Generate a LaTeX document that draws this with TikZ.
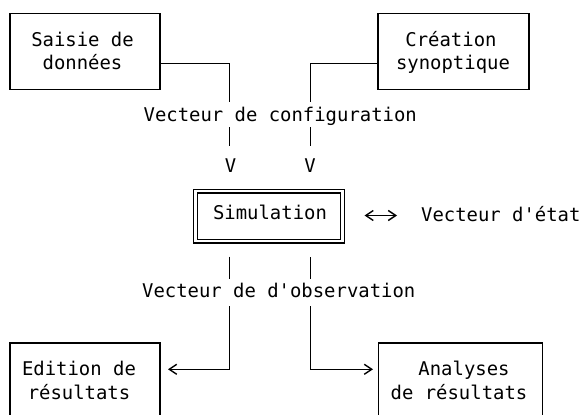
\documentclass[tikz,border=0pt]{standalone}
\usepackage{fontspec}
\newfontfamily\diagfont{DejaVu Sans Mono}
\usetikzlibrary{arrows.meta}
\begin{document}
\begin{tikzpicture}[x=1pt,y=-1pt,
  txt/.style={font=\diagfont\fontsize{18.9}{23.5}\selectfont, inner sep=0pt, anchor=base},
  lbl/.style={txt, anchor=base west},
  boxnode/.style={draw, line width=1.1pt, inner sep=0pt},
  conn/.style={line width=1pt},
  chevtip/.tip={Straight Barb[length=7.5pt,width=10pt,line width=1.4pt]},
  chev/.style={conn, -chevtip},
  dchev/.style={conn, chevtip-chevtip}
]
\useasboundingbox (0,0) rectangle (584,415);
\fill[white] (0,0) rectangle (584,415);
\clip (0,0) rectangle (584,415);

% boxes
\node[boxnode, minimum width=150pt, minimum height=76pt] (saisie) at (85,51.3) {};
\node[txt] (saisieA) at (82.5,46) {Saisie de};
\node[txt] (saisieB) at (82.5,69.3) {données};

\node[boxnode, minimum width=151pt, minimum height=76pt] (creation) at (453.5,51.3) {};
\node[txt] (creationA) at (451,46.3) {Création};
\node[txt] (creationB) at (453,69.6) {synoptique};

\node[boxnode, double, double distance=2.8pt, minimum width=147pt, minimum height=50pt] (simu) at (269,216) {};
\node[txt] (simuT) at (270,219.8) {Simulation};

\node[boxnode, minimum width=150pt, minimum height=90pt] (edition) at (85,388) {};
\node[txt] (editionA) at (79,375.8) {Edition de};
\node[txt] (editionB) at (79,399.6) {résultats};

\node[boxnode, minimum width=164pt, minimum height=90pt] (analyses) at (460.3,388) {};
\node[txt] (analysesA) at (464,375) {Analyses};
\node[txt] (analysesB) at (459,399.3) {de résultats};

% labels
\node[lbl] (vconf) at (143.5,121) {Vecteur de configuration};
\node[lbl] (vobs) at (142,297) {Vecteur de d'observation};
\node[lbl] (vetat) at (421,221) {Vecteur d'état};
\node[txt] (vL) at (230.5,172) {V};
\node[txt] (vR) at (310,172) {V};

% coordinates
\coordinate (sj) at (229,63.5);
\coordinate (sv1) at (229,101.7);
\coordinate (sv2a) at (229,127);
\coordinate (sv2b) at (229,146);
\coordinate (cj) at (310,63.5);
\coordinate (cv1) at (310,101.7);
\coordinate (cv2a) at (310,127);
\coordinate (cv2b) at (310,146);

\coordinate (ol1a) at (229,256.7);
\coordinate (ol1b) at (229,279);
\coordinate (ol2a) at (229,306);
\coordinate (olc) at (229,369.3);
\coordinate (olend) at (168,369.3);
\coordinate (or1a) at (310,257);
\coordinate (or1b) at (310,279);
\coordinate (or2a) at (310,306);
\coordinate (orc) at (310,369.3);
\coordinate (orend) at (373,369.3);

\coordinate (ea) at (364.5,215.5);
\coordinate (eb) at (397,215.5);

% connectors
\draw[conn] (saisie.east |- sj) -- (sj) -- (sv1);
\draw[conn] (sv2a) -- (sv2b);
\draw[conn] (creation.west |- cj) -- (cj) -- (cv1);
\draw[conn] (cv2a) -- (cv2b);

\draw[conn] (ol1a) -- (ol1b);
\draw[chev] (ol2a) -- (olc) -- (olend);
\draw[conn] (or1a) -- (or1b);
\draw[chev] (or2a) -- (orc) -- (orend);

\draw[dchev] (ea) -- (eb);
\end{tikzpicture}
\end{document}
